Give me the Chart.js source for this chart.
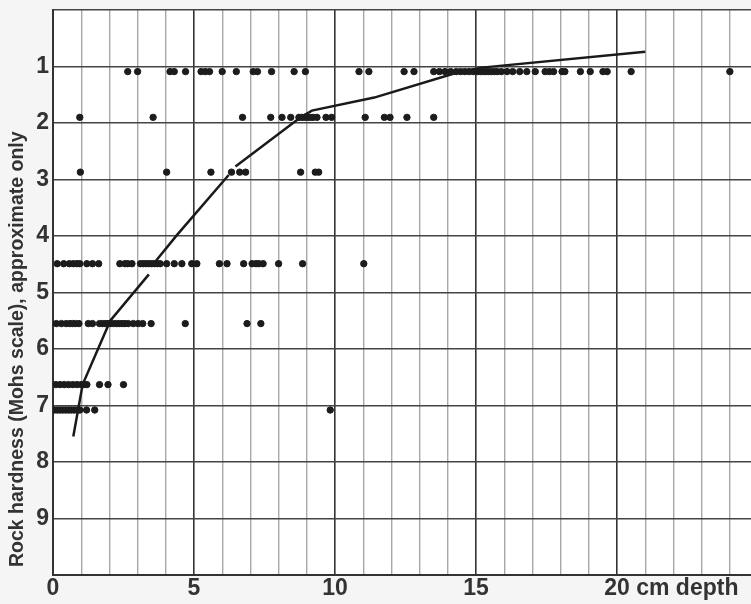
<!DOCTYPE html>
<html>
<head>
<meta charset="utf-8">
<script src="https://cdn.jsdelivr.net/npm/chart.js@4.4.1/dist/chart.umd.min.js"></script>
<style>
  body { margin: 0; background: #f5f5f5; }
  #wrap { width: 751px; height: 604px; }
</style>
</head>
<body>
<div id="wrap"><canvas id="myChart" width="751" height="604"></canvas></div>
<script>
  // hardness level of each row of dots
  const rowHardness = [1.09, 1.9, 2.87, 4.49, 5.55, 6.63, 7.08];

  // depths (cm) of the dots in each row
  const depthsRow1 = [2.65, 3.0, 4.15, 4.3, 4.7, 5.25, 5.4, 5.55, 6.0, 6.5, 7.1, 7.25, 7.75, 8.55, 8.95,
    10.85, 11.2, 12.45, 12.8, 13.5, 13.7, 13.9, 14.1, 14.3, 14.45, 14.6, 14.75, 14.9, 15.05, 15.15,
    15.25, 15.35, 15.45, 15.55, 15.65, 15.75, 15.9, 16.1, 16.3, 16.55, 16.8, 17.1, 17.45, 17.6,
    17.75, 18.05, 18.15, 18.7, 19.05, 19.5, 19.65, 20.5, 24.0];
  const depthsRow2 = [0.95, 3.55, 6.72, 7.72, 8.12, 8.43, 8.72, 8.82, 8.92, 9.02, 9.12, 9.22, 9.36,
    9.68, 9.88, 11.07, 11.75, 11.95, 12.55, 13.5];
  const depthsRow3 = [0.97, 4.03, 5.6, 6.33, 6.62, 6.83, 8.78, 9.3, 9.42];
  const depthsRow4 = [0.15, 0.38, 0.58, 0.72, 0.85, 0.95, 1.2, 1.4, 1.62, 2.37, 2.55, 2.65, 2.8,
    3.1, 3.2, 3.3, 3.4, 3.5, 3.6, 3.7, 3.8, 4.03, 4.3, 4.57, 4.92, 5.1, 5.9, 6.17, 6.76, 7.06,
    7.2, 7.3, 7.45, 8.0, 8.85, 11.02];
  const depthsRow5 = [0.12, 0.3, 0.47, 0.6, 0.7, 0.8, 0.92, 1.25, 1.4, 1.65, 1.75, 1.85, 1.95,
    2.05, 2.15, 2.25, 2.35, 2.45, 2.55, 2.67, 2.85, 3.02, 3.18, 3.48, 4.69, 6.88, 7.37];
  const depthsRow6 = [0.1, 0.25, 0.4, 0.55, 0.7, 0.85, 1.0, 1.1, 1.2, 1.65, 1.95, 2.5];
  const depthsRow7 = [0.05, 0.15, 0.25, 0.35, 0.45, 0.55, 0.65, 0.75, 0.85, 0.95, 1.19, 1.48, 9.83];
  const depthRows = [depthsRow1, depthsRow2, depthsRow3, depthsRow4, depthsRow5, depthsRow6, depthsRow7];

  // trend line, null = gap in the line
  const curveDepth =    [0.72, 1.05, 2.03, 3.4, null, 3.63, 4.4, 6.23, null, 6.47, 8.78, 9.18, 11.39, 14.25, 15.2, 21.0];
  const curveHardness = [7.55, 6.63, 5.5, 4.68, null, 4.45, 3.98, 2.92, null, 2.77, 1.9, 1.78, 1.55, 1.12, 1.02, 0.74];

  const xLabels = { 0: "0", 5: "5", 10: "10", 15: "15", 20: "20" };
  const yLabels = [1, 2, 3, 4, 5, 6, 7, 8, 9];
  const yTitle = "Rock hardness (Mohs scale), approximate only";

  const dots = [];
  depthRows.forEach((row, i) => {
    row.forEach(d => dots.push({ x: d, y: rowHardness[i] }));
  });
  const curve = curveDepth.map((d, i) => (d === null ? { x: null, y: null } : { x: d, y: curveHardness[i] }));

  const FONT = "'Liberation Sans', Arial, sans-serif";
  const TICK_SIZE = 23;

  const bgPlugin = {
    id: "bg",
    beforeDraw(chart) {
      const { ctx, chartArea: a } = chart;
      ctx.save();
      ctx.fillStyle = "#f5f5f5";
      ctx.fillRect(0, 0, chart.width, chart.height);
      ctx.fillStyle = "#ffffff";
      ctx.fillRect(a.left, a.top, a.right - a.left, a.bottom - a.top);
      ctx.restore();
    },
    afterDraw(chart) {
      const xs = chart.scales.x;
      const ctx = chart.ctx;
      ctx.save();
      ctx.fillStyle = "#333";
      // unit text after the "20" tick label
      ctx.font = "bold " + TICK_SIZE + "px " + FONT;
      ctx.textBaseline = "middle";
      ctx.textAlign = "left";
      const px = xs.getPixelForValue(20) + ctx.measureText("20").width / 2;
      ctx.fillText(" cm depth", px, xs.top + TICK_SIZE * 0.6);
      // y axis title, reading upward from near the bottom of the plot
      ctx.font = "bold 19.5px " + FONT;
      ctx.translate(18, chart.chartArea.bottom - 8);
      ctx.rotate(-Math.PI / 2);
      ctx.fillText(yTitle, 0, 0);
      ctx.restore();
    }
  };

  const config = {
    type: "scatter",
    data: {
      datasets: [
        {
          label: "Observations",
          data: dots,
          backgroundColor: "#1c1c1c",
          borderColor: "#1c1c1c",
          pointRadius: 3.2,
          pointHoverRadius: 3.2,
        },
        {
          label: "Trend",
          type: "line",
          data: curve,
          borderColor: "#1a1a1a",
          borderWidth: 2.5,
          pointRadius: 0,
          spanGaps: false,
          fill: false,
        },
      ],
    },
    options: {
      responsive: false,
      animation: false,
      layout: { autoPadding: false, padding: { top: 10, right: 0, left: 0, bottom: 0 } },
      plugins: { legend: { display: false }, tooltip: { enabled: false } },
      scales: {
        x: {
          type: "linear",
          min: 0,
          max: 24.75,
          afterFit(scale) {
            scale.height = 29;
            scale.paddingLeft = 0;
            scale.paddingRight = 0;
          },
          border: { color: "#333", width: 2 },
          grid: {
            drawTicks: false,
            color: ctx => (ctx.tick && ctx.tick.value % 5 === 0 ? "#333" : "#a8a8a8"),
            lineWidth: ctx => (ctx.tick && ctx.tick.value % 5 === 0 ? 1.6 : 1.4),
          },
          ticks: {
            stepSize: 1,
            includeBounds: false,
            autoSkip: false,
            maxRotation: 0,
            padding: 0,
            color: "#333",
            font: { family: FONT, size: TICK_SIZE, weight: "bold" },
            callback: v => (xLabels[v] !== undefined ? xLabels[v] : ""),
          },
        },
        y: {
          type: "linear",
          reverse: true,
          min: 0,
          max: 10,
          afterFit(scale) {
            scale.width = 53;
            scale.paddingTop = 0;
            scale.paddingBottom = 0;
          },
          border: { color: "#333", width: 2 },
          grid: { drawTicks: false, color: "#444", lineWidth: 1.6 },
          ticks: {
            stepSize: 1,
            padding: 4,
            color: "#333",
            font: { family: FONT, size: TICK_SIZE, weight: "bold" },
            callback: v => (yLabels.includes(v) ? String(v) : ""),
          },
        },
      },
    },
    plugins: [bgPlugin],
  };

  var myChart = new Chart(document.getElementById("myChart"), config);
</script>
</body>
</html>
